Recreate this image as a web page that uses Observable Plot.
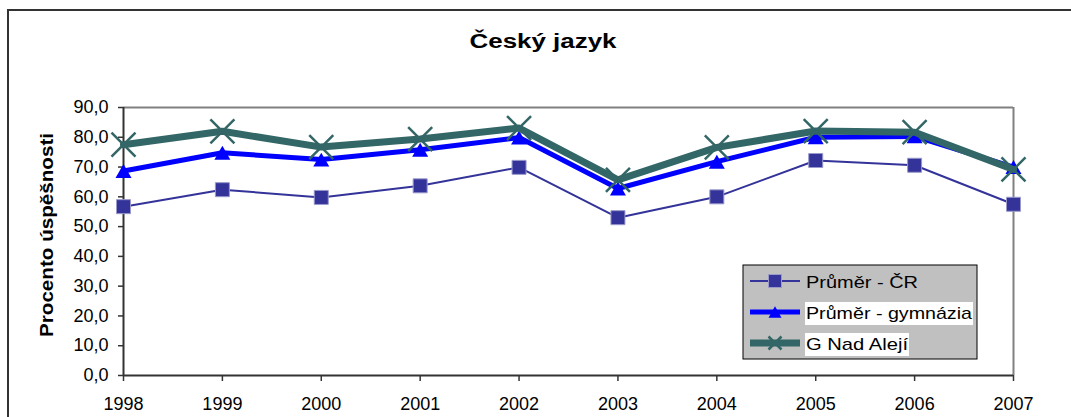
<!DOCTYPE html>
<html><head><meta charset="utf-8">
<script src="https://cdn.jsdelivr.net/npm/d3@7"></script>
<script src="https://cdn.jsdelivr.net/npm/@observablehq/plot@0.6"></script>
<style>body{margin:0;background:#fff;overflow:hidden}</style>
</head><body><div id="chart"></div>
<script>
const years = [1998, 1999, 2000, 2001, 2002, 2003, 2004, 2005, 2006, 2007];
const prumerCR = [56.7, 62.4, 59.8, 63.7, 69.9, 53.0, 60.0, 72.2, 70.6, 57.5];
const prumerGym = [68.7, 74.8, 72.5, 75.8, 79.9, 62.8, 71.8, 80.0, 80.3, 70.0];
const nadAleji = [77.5, 82.0, 76.7, 79.4, 83.1, 65.7, 76.6, 82.1, 81.7, 69.2];
const seriesNames = ["Průměr - ČR", "Průměr - gymnázia", "G Nad Alejí"];
const yTicks = [0, 10, 20, 30, 40, 50, 60, 70, 80, 90];
const titleText = "Český jazyk";
const yLabel = "Procento úspěšnosti";

const data = years.map((y, i) => ({year: y, cr: prumerCR[i], gym: prumerGym[i], ga: nadAleji[i]}));

const sq = {draw(ctx, size) { const r = Math.sqrt(size / Math.PI); ctx.rect(-r, -r, 2 * r, 2 * r); }};
const tri = {draw(ctx, size) { const r = Math.sqrt(size / Math.PI); const h = r * 0.87; ctx.moveTo(0, -h); ctx.lineTo(r, h); ctx.lineTo(-r, h); ctx.closePath(); }};
const ex = {draw(ctx, size) { const r = Math.sqrt(size / Math.PI); ctx.moveTo(-r, -r); ctx.lineTo(r, r); ctx.moveTo(-r, r); ctx.lineTo(r, -r); }};

const fmt = d => d.toFixed(1).replace(".", ",");

const chart = Plot.plot({
  width: 1071, height: 417,
  marginLeft: 123, marginRight: 58, marginTop: 107, marginBottom: 42,
  x: {domain: [1998, 2007]},
  y: {domain: [0, 90]},
  style: {fontFamily: "'Liberation Sans', Arial, sans-serif", fontSize: "18px", color: "#000", background: "#fff", overflow: "visible"},
  marks: [
    Plot.ruleY([90], {stroke: "#808080", strokeWidth: 2}),
    Plot.ruleX([2007], {stroke: "#808080", strokeWidth: 2}),
    Plot.axisY({ticks: yTicks, tickFormat: fmt, tickSize: 5, tickPadding: 10, label: null, stroke: "#333", strokeWidth: 1.5, fill: "#000"}),
    Plot.axisX({ticks: years, tickFormat: d => String(d), tickSize: 6, tickPadding: 16, label: null, stroke: "#333", strokeWidth: 1.5, fill: "#000"}),
    Plot.ruleX([1998], {stroke: "#333", strokeWidth: 2}),
    Plot.ruleY([0], {stroke: "#333", strokeWidth: 2}),
    Plot.line(data, {x: "year", y: "cr", stroke: "#333399", strokeWidth: 2}),
    Plot.dot(data, {x: "year", y: "cr", symbol: sq, r: 7, fill: "#333399", stroke: "#9999cc", strokeWidth: 1}),
    Plot.line(data, {x: "year", y: "gym", stroke: "#0000ff", strokeWidth: 5}),
    Plot.dot(data, {x: "year", y: "gym", symbol: tri, r: 8, fill: "#0000ff", stroke: "none"}),
    Plot.line(data, {x: "year", y: "ga", stroke: "#336666", strokeWidth: 7}),
    Plot.dot(data, {x: "year", y: "ga", symbol: ex, r: 12, fill: "none", stroke: "#336666", strokeWidth: 2.5})
  ]
});
document.getElementById("chart").appendChild(chart);

const svg = d3.select(chart);
// outer chart border
svg.insert("rect", ":first-child").attr("x", 8).attr("y", 10).attr("width", 1200).attr("height", 600)
  .attr("fill", "none").attr("stroke", "#333").attr("stroke-width", 2);
svg.insert("rect", ":first-child").attr("x", 0).attr("y", 0).attr("width", 1071).attr("height", 417).attr("fill", "#fff");

// title
svg.append("text").attr("x", 543).attr("y", 48).attr("text-anchor", "middle")
  .attr("font-size", 20).attr("font-weight", "bold").attr("textLength", 147).attr("lengthAdjust", "spacingAndGlyphs")
  .attr("fill", "#000").text(titleText);

// y label
svg.append("text").attr("transform", "translate(53,235) rotate(-90)").attr("text-anchor", "middle")
  .attr("font-size", 17.5).attr("font-weight", "bold").attr("textLength", 204).attr("lengthAdjust", "spacingAndGlyphs")
  .attr("fill", "#000").text(yLabel);

// legend
const lg = svg.append("g").attr("text-anchor", "start");
lg.append("rect").attr("x", 743).attr("y", 265).attr("width", 234).attr("height", 94)
  .attr("fill", "#c0c0c0").attr("stroke", "#000").attr("stroke-width", 1);
const rows = [281, 312, 343];
const colors = ["#333399", "#0000ff", "#336666"];
const widths = [2, 5, 7];
const textW = [112, 166, 102];
const syms = [sq, tri, ex];
rows.forEach((ry, i) => {
  if (i > 0) lg.append("rect").attr("x", 805).attr("y", ry - 10).attr("width", textW[i] + 2).attr("height", 23).attr("fill", "#fff");
  lg.append("line").attr("x1", 750).attr("x2", 800).attr("y1", ry).attr("y2", ry)
    .attr("stroke", colors[i]).attr("stroke-width", widths[i]);
  const p = d3.symbol(syms[i], Math.PI * 6.5 * 6.5)();
  lg.append("path").attr("d", p).attr("transform", `translate(775,${ry})`)
    .attr("fill", i === 2 ? "none" : colors[i]).attr("stroke", i === 2 ? colors[i] : (i === 0 ? "#9999cc" : "none"))
    .attr("stroke-width", i === 2 ? 2.5 : 1);
  lg.append("text").attr("x", 806).attr("y", ry + 6.5).attr("font-size", 17).attr("text-anchor", "start")
    .attr("textLength", textW[i]).attr("lengthAdjust", "spacingAndGlyphs").attr("fill", "#000").text(seriesNames[i]);
});
</script></body></html>
